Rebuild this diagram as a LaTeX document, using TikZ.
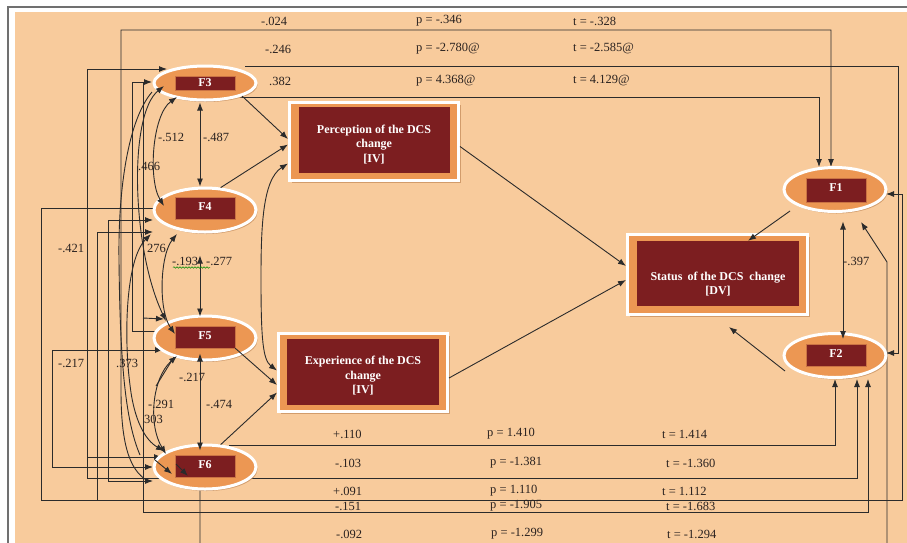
\documentclass[tikz,border=0pt]{standalone}
\usepackage{fontspec}
\setmainfont{Liberation Serif}
\usetikzlibrary{shapes.geometric,arrows.meta,shadows,decorations.pathmorphing}
\definecolor{bgC}{HTML}{F8CB9C}
\definecolor{ellC}{HTML}{EC9753}
\definecolor{redC}{HTML}{7C1E20}
\definecolor{lnC}{HTML}{2B2B2B}
\definecolor{shC}{HTML}{C9915F}
\definecolor{txC}{HTML}{2A2220}
\definecolor{frC}{HTML}{707070}
\begin{document}
\begin{tikzpicture}[x=1pt,y=-1pt,
  ln/.style={draw=lnC, line width=0.9pt},
  arr/.style={ln,-{Latex[length=8pt,width=6pt]}},
  darr/.style={ln,{Latex[length=8pt,width=6pt]}-{Latex[length=8pt,width=6pt]}},
  fell/.style={ellipse, draw=white, line width=3pt, fill=ellC, inner sep=0pt,
    minimum width=102pt, minimum height=44pt,
    drop shadow={shadow xshift=1.5pt, shadow yshift=-2pt, fill=shC, opacity=0.8}},
  frect/.style={rectangle, fill=redC, draw=ellC!70!redC, line width=0.4pt,
    minimum width=60pt, minimum height=22pt, inner sep=0pt, text=white,
    font=\bfseries\fontsize{12}{12}\selectfont},
  bout/.style={rectangle, fill=ellC, draw=white, line width=3pt, inner sep=0pt,
    drop shadow={shadow xshift=2pt, shadow yshift=-2.5pt, fill=shC, opacity=0.8}},
  bin/.style={rectangle, fill=redC, inner sep=0pt},
  btxt/.style={text=white, font=\bfseries\fontsize{12}{14.5}\selectfont, align=center, inner sep=0pt},
  lab/.style={text=txC, font=\fontsize{12.5}{12.5}\selectfont, inner sep=0pt, anchor=west},
]
\useasboundingbox (0,0) rectangle (907,542);
\clip (0,0) rectangle (907,542);
\fill[white] (0,0) rectangle (907,542);
\draw[frC, line width=1.2pt] (8,545) -- (8,7) -- (910,7);
\fill[bgC] (15,12) rectangle (910,545);

% ---------- long orthogonal connectors (drawn first) ----------
% -.024
\draw[arr] (148,481) .. controls (128,470) and (121,440) .. (121,390) -- (121,30) -- (831,30) -- (831,167);
% -.246
\draw[arr] (245,66) -- (898,66) -- (898,353) -- (886,353);
% .382
\draw[arr] (240,97) -- (819,97) -- (819,167);
% +.110
\draw[arr] (229,445) -- (835,445) -- (835,379);
% -.103
\draw[arr] (87,478) |- (167,69);
\draw[arr] (87,478) -- (857,478) -- (857,379);
\draw[arr] (87,457) -- (162,457);
% +.091
\draw[arr] (154,208) -- (41,208) -- (41,500) -- (902,500) -- (902,194) -- (886,194);
% -.151
\draw[arr] (143,82) -- (143,512) -- (868,512) -- (868,379);
\draw[arr] (143,318) -- (164,319);
% -.092
\draw[arr] (200,489) -- (200,560) -- (887,560) -- (887,262) -- (861,222);
% left brackets
\draw[darr] (163,350) -- (52,350) -- (52,467) -- (153,467);
\draw[arr] (97,500) |- (153,232);
\draw[darr] (153,220) -| (108,481) -- (153,481);
\draw[arr] (163,331) -| (132,82) -- (152,82);

% ---------- nodes ----------
\node[fell, minimum height=34pt] (F3e) at (205,83) {};
\node[frect, minimum height=14pt] (F3) at (205,83) {F3};
\node[fell] (F4e) at (205,210) {};
\node[frect] (F4) at (205,208.5) {\raisebox{3pt}{F4}};
\node[fell] (F5e) at (205,338) {};
\node[frect] (F5) at (205,337) {\raisebox{3pt}{F5}};
\node[fell] (F6e) at (205,467) {};
\node[frect] (F6) at (205,466) {\raisebox{3pt}{F6}};
\node[fell] (F1e) at (835,189.5) {};
\node[frect, minimum height=24pt] (F1) at (836,190) {\raisebox{4pt}{F1}};
\node[fell] (F2e) at (835,355.5) {};
\node[frect] (F2) at (836,355) {\raisebox{3pt}{F2}};

\node[bout, minimum width=169pt, minimum height=78pt] (perco) at (374,141.5) {};
\node[bin, minimum width=151pt, minimum height=66pt] (perc) at (374.5,140) {};
\node[btxt] (perct) at (374,144.5) {Perception of the DCS\\change\\{[IV]}};

\node[bout, minimum width=169pt, minimum height=78pt] (expo) at (363,372.5) {};
\node[bin, minimum width=152pt, minimum height=66pt] (exp) at (363,372) {};
\node[btxt] (expt) at (363,376) {Experience of the DCS\\change\\{[IV]}};

\node[bout, minimum width=180pt, minimum height=80pt] (stato) at (717.5,274.5) {};
\node[bin, minimum width=162pt, minimum height=65pt] (stat) at (718,273.5) {};
\node[btxt] (statt) at (718,284) {Status\, of the DCS\ \ change\\{[DV]}};

% ---------- connectors among nodes ----------
\draw[arr] (F3e.south east) -- ([yshift=2.5pt]perco.west);
\draw[arr] (F4e.55) -- ([yshift=-3pt]perco.west);
\draw[arr] (F5.south east) -- ([yshift=-12.5pt]expo.west);
\draw[arr] (F6e.55) -- ([yshift=-20pt]expo.west);
\draw[darr] ([yshift=-22pt]perco.west) .. controls (262,180) and (261,230) .. (261,280)
  .. controls (261,340) and (263,360) .. ([yshift=2pt]expo.west);
\draw[arr] ([yshift=-5pt]perco.east) -- ([yshift=8.5pt]stato.west);
\draw[arr] ([yshift=-5.5pt]expo.east) -- ([yshift=-5.5pt]stato.west);
\coordinate (f1s) at (790,211);
\coordinate (f2s) at (785,371);
\coordinate (stb) at (729,327);
\draw[arr] (f1s) -- ([xshift=30pt]stat.north);
\draw[arr] (f2s) -- (stb);
\draw[darr] ([xshift=8pt,yshift=-8.5pt]F1e.south) -- ([xshift=8pt,yshift=-7pt]F2e.north);
\draw[darr] ([xshift=-5pt,yshift=-1pt]F3e.south) -- ([xshift=-5pt]F4e.north);
\draw[darr] ([xshift=-5pt,yshift=-22pt]F4e.south) -- ([xshift=-5pt,yshift=-2pt]F5e.north);
\draw[darr] ([xshift=-5pt,yshift=8pt]F5e.south) -- ([xshift=-5pt,yshift=-7pt]F6e.north);

% left curved correlations
\draw[darr] (177,97) .. controls (152,115) and (148,180) .. (164,206);
\draw[darr] (164,86) .. controls (128,115) and (132,250) .. (166,321);
\draw[ln] (152,92) .. controls (128,120) and (118,190) .. (119,260) .. controls (120,360) and (125,420) .. (140,455);
\draw[darr] (151,234) .. controls (125,260) and (124,340) .. (130,385) .. controls (134,420) and (145,440) .. (164,451);
\draw[darr] (177,234) .. controls (160,255) and (158,310) .. (175,334);
\draw[darr] (177,356) .. controls (152,378) and (148,425) .. (166,454);
\draw[ln] (174,357) -- (156,386);
\draw[arr] (155,460) -- (172,474);
\draw[arr] (176,464) -- (188,476);

% ---------- labels ----------
\node[lab] (t1a) at (261,21) {-.024};
\node[lab] (t1b) at (416,21) {p = -.346};
\node[lab] (t1c) at (573,21) {t = -.328};
\node[lab] (t2a) at (265,49) {-.246};
\node[lab] (t2b) at (416,49) {p = -2.780@};
\node[lab] (t2c) at (573,49) {t = -2.585@};
\node[lab] (t3a) at (269,81) {.382};
\node[lab] (t3b) at (416,81) {p = 4.368@};
\node[lab] (t3c) at (573,81) {t = 4.129@};

\node[lab] (b1a) at (333,434) {+.110};
\node[lab] (b1b) at (487,434) {p = 1.410};
\node[lab] (b1c) at (662,434) {t = 1.414};
\node[lab] (b2a) at (335,463) {-.103};
\node[lab] (b2b) at (490,463) {p = -1.381};
\node[lab] (b2c) at (666,463) {t = -1.360};
\node[lab] (b3a) at (333,491) {+.091};
\node[lab] (b3b) at (490,491) {p = 1.110};
\node[lab] (b3c) at (662,491) {t = 1.112};
\node[lab] (b4a) at (335,506) {-.151};
\node[lab] (b4b) at (490,506) {p = -1.905};
\node[lab] (b4c) at (666,506) {t = -1.683};
\node[lab] (b5a) at (336,534) {-.092};
\node[lab] (b5b) at (491,534) {p = -1.299};
\node[lab] (b5c) at (667,534) {t = -1.294};

\node[lab] (c1) at (158,137) {-.512};
\node[lab] (c2) at (203,137) {-.487};
\node[lab] (c3) at (138,166) {.466};
\node[lab] (c4) at (58,248) {-.421};
\node[lab] (c5) at (147,248) {276};
\node[lab] (c6) at (172,261) {-.193};
\node[lab] (c7) at (206,261) {-.277};
\node[lab] (c8) at (58,363) {-.217};
\node[lab] (c9) at (116,363) {.373};
\node[lab] (c10) at (179,377) {-.217};
\node[lab] (c11) at (148,404) {-.291};
\node[lab] (c12) at (144,419) {303};
\node[lab] (c13) at (206,404) {-.474};
\node[lab] (c14) at (843,261) {-.397};
\draw[green!55!black, line width=0.5pt, decorate,
  decoration={snake, amplitude=0.8pt, segment length=3pt}] (173,267.5) -- (210,267.5);
\end{tikzpicture}
\end{document}
